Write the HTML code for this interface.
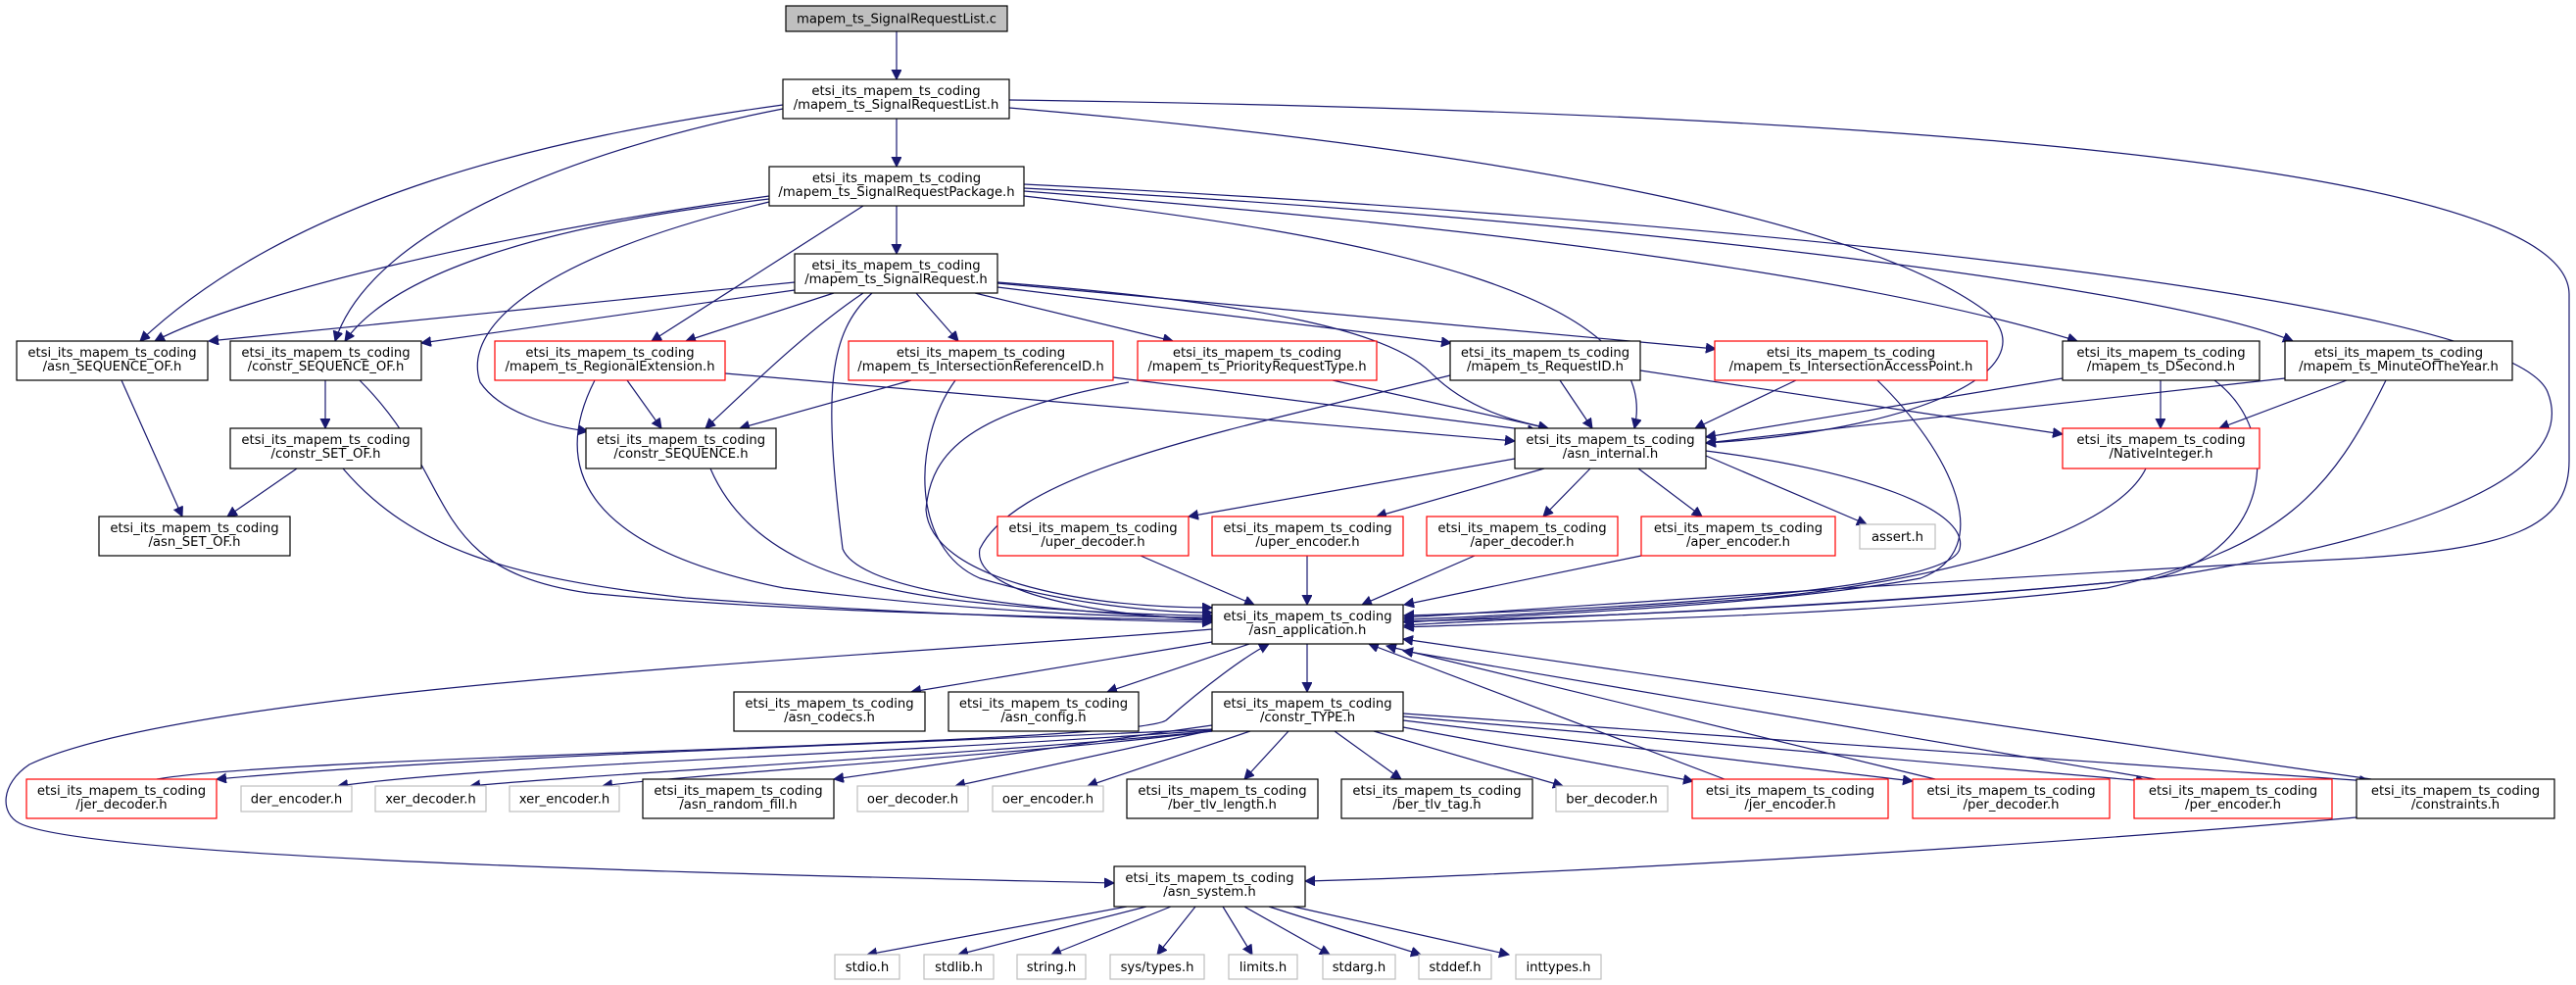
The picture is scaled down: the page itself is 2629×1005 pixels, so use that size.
<!DOCTYPE html>
<html><head><meta charset="utf-8"><style>
html,body{margin:0;padding:0;background:#fff;}
svg{display:block;}
text{font-family:"DejaVu Sans","Liberation Sans",sans-serif;font-size:13.2px;fill:#000;text-anchor:middle;}
.e{fill:none;stroke:#191970;stroke-width:1.2;marker-end:url(#a);}
.b{fill:#fff;stroke:#000;stroke-width:1.2;}
.r{fill:#fff;stroke:#ff0000;stroke-width:1.2;}
.g{fill:#fff;stroke:#bfbfbf;stroke-width:1.2;}
</style></head><body>
<svg width="2629" height="1005" viewBox="0 0 2629 1005" xmlns="http://www.w3.org/2000/svg">
<defs><marker id="a" markerUnits="userSpaceOnUse" markerWidth="12" markerHeight="12" refX="10" refY="5" orient="auto"><path d="M0,0 L10,5 L0,10 z" fill="#191970" stroke="#191970"/></marker></defs>
<g>
<path class="e" d="M915,32 L915,81"/>
<path class="e" d="M915,121 L915,170"/>
<path class="e" d="M915,210 L915,259"/>
<path class="e" d="M799,107 C560,140 300,200 143,348"/>
<path class="e" d="M799,111 C600,150 380,230 342,348"/>
<path class="e" d="M1030,110 C1500,150 1900,220 2030,320 C2090,380 1950,440 1741,452"/>
<path class="e" d="M1030,102 C1600,110 2620,140 2622,300 L2622,470 C2622,540 2560,560 2400,570 C2000,590 1600,620 1433,630"/>
<path class="e" d="M785,200 C500,240 250,300 158,348"/>
<path class="e" d="M785,203 C550,230 400,280 352,348"/>
<path class="e" d="M785,206 C560,260 470,330 490,390 C510,420 560,435 600,440"/>
<path class="e" d="M881,210 L665,348"/>
<path class="e" d="M1045,200 C1400,240 1700,300 1668,437"/>
<path class="e" d="M1045,195 C1500,230 1900,280 2120,348"/>
<path class="e" d="M1045,192 C1600,220 2200,290 2340,348"/>
<path class="e" d="M1045,188 C1700,220 2560,300 2600,400 C2640,500 2400,560 2200,590 C1900,620 1600,630 1433,634"/>
<path class="e" d="M811,288 L213,348"/>
<path class="e" d="M811,296 L430,350"/>
<path class="e" d="M851,299 L700,348"/>
<path class="e" d="M881,299 C820,340 760,400 720,437"/>
<path class="e" d="M890,299 C845,340 840,400 860,560 C880,610 1100,625 1237,632"/>
<path class="e" d="M935,299 L978,348"/>
<path class="e" d="M995,299 L1197,348"/>
<path class="e" d="M1018,293 L1481,350"/>
<path class="e" d="M1018,289 L1751,356"/>
<path class="e" d="M1018,288 C1300,310 1420,340 1460,380 C1500,420 1550,430 1580,437"/>
<path class="e" d="M124,388 L186,527"/>
<path class="e" d="M332,388 L332,437"/>
<path class="e" d="M367,388 C470,490 430,580 600,605 C800,625 1100,630 1237,633"/>
<path class="e" d="M303,478 L232,527"/>
<path class="e" d="M350,478 C420,560 520,590 700,610 C900,625 1100,632 1237,635"/>
<path class="e" d="M640,388 L675,437"/>
<path class="e" d="M740,381 L1546,450"/>
<path class="e" d="M607,388 C560,480 600,560 800,600 C1000,625 1150,630 1237,630"/>
<path class="e" d="M930,388 L755,437"/>
<path class="e" d="M1136,385 L1569,440"/>
<path class="e" d="M975,388 C930,450 930,560 1000,590 C1100,620 1200,625 1237,625"/>
<path class="e" d="M1360,388 L1580,437"/>
<path class="e" d="M1152,390 C990,420 950,460 945,520 C950,590 1100,620 1237,620"/>
<path class="e" d="M1592,388 L1625,437"/>
<path class="e" d="M1674,378 L2105,443"/>
<path class="e" d="M1480,383 C1250,440 1040,480 1000,560 C990,610 1150,630 1237,632"/>
<path class="e" d="M1833,388 L1730,437"/>
<path class="e" d="M1916,388 C1990,460 2040,560 1960,590 C1800,620 1500,630 1433,635"/>
<path class="e" d="M2105,386 L1741,446"/>
<path class="e" d="M2205,388 L2205,437"/>
<path class="e" d="M2260,388 C2330,440 2320,560 2200,590 C1900,620 1550,630 1433,638"/>
<path class="e" d="M2332,386 L1741,452"/>
<path class="e" d="M2395,388 L2265,437"/>
<path class="e" d="M2435,388 C2380,500 2330,560 2150,600 C1900,630 1550,635 1433,640"/>
<path class="e" d="M725,478 C760,560 850,600 1000,615 C1100,625 1200,628 1237,628"/>
<path class="e" d="M2190,478 C2160,540 2000,590 1800,610 C1600,625 1500,630 1433,632"/>
<path class="e" d="M1546,468 L1213,527"/>
<path class="e" d="M1576,478 L1405,527"/>
<path class="e" d="M1623,478 L1575,527"/>
<path class="e" d="M1672,478 L1737,527"/>
<path class="e" d="M1741,465 L1905,535"/>
<path class="e" d="M1741,460 C1900,480 2010,520 2000,560 C1990,600 1700,620 1433,628"/>
<path class="e" d="M1164,567 L1280,617"/>
<path class="e" d="M1334,567 L1334,617"/>
<path class="e" d="M1505,567 L1390,617"/>
<path class="e" d="M1675,567 L1433,617"/>
<path class="e" d="M1237,655 L930,706"/>
<path class="e" d="M1275,657 L1130,706"/>
<path class="e" d="M1334,657 L1334,706"/>
<path class="e" d="M1237,642 C900,670 200,700 30,780 C0,800 0,830 20,840 C100,880 900,895 1137,901"/>
<path class="e" d="M1237,744 C900,760 500,770 221,795"/>
<path class="e" d="M1237,745 C900,770 500,780 345,802"/>
<path class="e" d="M1237,746 C1000,770 600,790 480,802"/>
<path class="e" d="M1237,746 C1050,770 700,790 615,802"/>
<path class="e" d="M1237,740 L851,795"/>
<path class="e" d="M1237,745 L975,802"/>
<path class="e" d="M1276,746 L1110,802"/>
<path class="e" d="M1315,746 L1270,795"/>
<path class="e" d="M1362,746 L1430,795"/>
<path class="e" d="M1402,746 L1595,802"/>
<path class="e" d="M1432,742 L1728,797"/>
<path class="e" d="M1432,735 L1952,797"/>
<path class="e" d="M1432,731 L2190,797"/>
<path class="e" d="M1432,728 L2418,797"/>
<path class="e" d="M160,795 C300,770 1150,760 1190,735 C1230,700 1270,670 1295,657"/>
<path class="e" d="M1760,795 L1397,657"/>
<path class="e" d="M1975,795 L1415,659"/>
<path class="e" d="M2200,795 L1432,664"/>
<path class="e" d="M2420,795 L1432,652"/>
<path class="e" d="M2405,834 C2000,870 1500,895 1332,899"/>
<path class="e" d="M1150,925 L885,974"/>
<path class="e" d="M1170,925 L978,974"/>
<path class="e" d="M1195,925 L1073,974"/>
<path class="e" d="M1220,925 L1181,974"/>
<path class="e" d="M1248,925 L1278,974"/>
<path class="e" d="M1270,925 L1357,974"/>
<path class="e" d="M1295,925 L1450,974"/>
<path class="e" d="M1320,925 L1540,974"/>
</g>
<g>
<rect x="802" y="6" width="226" height="26" fill="#bfbfbf" stroke="#000" stroke-width="1.2"/><text x="915" y="23.5">mapem_ts_SignalRequestList.c</text>
<rect class="b" x="799" y="81" width="231" height="40"/><text x="914.5" y="97">etsi_its_mapem_ts_coding</text><text x="914.5" y="111">/mapem_ts_SignalRequestList.h</text>
<rect class="b" x="785" y="170" width="260" height="40"/><text x="915" y="186">etsi_its_mapem_ts_coding</text><text x="915" y="200">/mapem_ts_SignalRequestPackage.h</text>
<rect class="b" x="811" y="259" width="207" height="40"/><text x="914.5" y="275">etsi_its_mapem_ts_coding</text><text x="914.5" y="289">/mapem_ts_SignalRequest.h</text>
<rect class="b" x="17" y="348" width="195" height="40"/><text x="114.5" y="364">etsi_its_mapem_ts_coding</text><text x="114.5" y="378">/asn_SEQUENCE_OF.h</text>
<rect class="b" x="235" y="348" width="195" height="40"/><text x="332.5" y="364">etsi_its_mapem_ts_coding</text><text x="332.5" y="378">/constr_SEQUENCE_OF.h</text>
<rect class="r" x="505" y="348" width="235" height="40"/><text x="622.5" y="364">etsi_its_mapem_ts_coding</text><text x="622.5" y="378">/mapem_ts_RegionalExtension.h</text>
<rect class="r" x="866" y="348" width="270" height="40"/><text x="1001" y="364">etsi_its_mapem_ts_coding</text><text x="1001" y="378">/mapem_ts_IntersectionReferenceID.h</text>
<rect class="r" x="1161" y="348" width="244" height="40"/><text x="1283" y="364">etsi_its_mapem_ts_coding</text><text x="1283" y="378">/mapem_ts_PriorityRequestType.h</text>
<rect class="b" x="1480" y="348" width="194" height="40"/><text x="1577" y="364">etsi_its_mapem_ts_coding</text><text x="1577" y="378">/mapem_ts_RequestID.h</text>
<rect class="r" x="1750" y="348" width="278" height="40"/><text x="1889" y="364">etsi_its_mapem_ts_coding</text><text x="1889" y="378">/mapem_ts_IntersectionAccessPoint.h</text>
<rect class="b" x="2105" y="348" width="201" height="40"/><text x="2205.5" y="364">etsi_its_mapem_ts_coding</text><text x="2205.5" y="378">/mapem_ts_DSecond.h</text>
<rect class="b" x="2332" y="348" width="232" height="40"/><text x="2448" y="364">etsi_its_mapem_ts_coding</text><text x="2448" y="378">/mapem_ts_MinuteOfTheYear.h</text>
<rect class="b" x="235" y="437" width="195" height="41"/><text x="332.5" y="453">etsi_its_mapem_ts_coding</text><text x="332.5" y="467">/constr_SET_OF.h</text>
<rect class="b" x="598" y="437" width="194" height="41"/><text x="695" y="453">etsi_its_mapem_ts_coding</text><text x="695" y="467">/constr_SEQUENCE.h</text>
<rect class="b" x="1546" y="437" width="195" height="41"/><text x="1643.5" y="453">etsi_its_mapem_ts_coding</text><text x="1643.5" y="467">/asn_internal.h</text>
<rect class="r" x="2105" y="437" width="201" height="41"/><text x="2205.5" y="453">etsi_its_mapem_ts_coding</text><text x="2205.5" y="467">/NativeInteger.h</text>
<rect class="b" x="101" y="527" width="195" height="40"/><text x="198.5" y="543">etsi_its_mapem_ts_coding</text><text x="198.5" y="557">/asn_SET_OF.h</text>
<rect class="r" x="1018" y="527" width="195" height="40"/><text x="1115.5" y="543">etsi_its_mapem_ts_coding</text><text x="1115.5" y="557">/uper_decoder.h</text>
<rect class="r" x="1237" y="527" width="195" height="40"/><text x="1334.5" y="543">etsi_its_mapem_ts_coding</text><text x="1334.5" y="557">/uper_encoder.h</text>
<rect class="r" x="1456" y="527" width="195" height="40"/><text x="1553.5" y="543">etsi_its_mapem_ts_coding</text><text x="1553.5" y="557">/aper_decoder.h</text>
<rect class="r" x="1675" y="527" width="198" height="40"/><text x="1774" y="543">etsi_its_mapem_ts_coding</text><text x="1774" y="557">/aper_encoder.h</text>
<rect class="g" x="1898" y="535" width="77" height="25"/><text x="1936.5" y="552">assert.h</text>
<rect class="b" x="1237" y="617" width="195" height="40"/><text x="1334.5" y="633">etsi_its_mapem_ts_coding</text><text x="1334.5" y="647">/asn_application.h</text>
<rect class="b" x="749" y="706" width="195" height="40"/><text x="846.5" y="722">etsi_its_mapem_ts_coding</text><text x="846.5" y="736">/asn_codecs.h</text>
<rect class="b" x="968" y="706" width="194" height="40"/><text x="1065" y="722">etsi_its_mapem_ts_coding</text><text x="1065" y="736">/asn_config.h</text>
<rect class="b" x="1237" y="706" width="195" height="40"/><text x="1334.5" y="722">etsi_its_mapem_ts_coding</text><text x="1334.5" y="736">/constr_TYPE.h</text>
<rect class="r" x="27" y="795" width="194" height="40"/><text x="124" y="811">etsi_its_mapem_ts_coding</text><text x="124" y="825">/jer_decoder.h</text>
<rect class="g" x="246" y="802" width="113" height="26"/><text x="302.5" y="819.5">der_encoder.h</text>
<rect class="g" x="383" y="802" width="113" height="26"/><text x="439.5" y="819.5">xer_decoder.h</text>
<rect class="g" x="520" y="802" width="112" height="26"/><text x="576" y="819.5">xer_encoder.h</text>
<rect class="b" x="656" y="795" width="195" height="40"/><text x="753.5" y="811">etsi_its_mapem_ts_coding</text><text x="753.5" y="825">/asn_random_fill.h</text>
<rect class="g" x="875" y="802" width="113" height="26"/><text x="931.5" y="819.5">oer_decoder.h</text>
<rect class="g" x="1013" y="802" width="113" height="26"/><text x="1069.5" y="819.5">oer_encoder.h</text>
<rect class="b" x="1150" y="795" width="195" height="40"/><text x="1247.5" y="811">etsi_its_mapem_ts_coding</text><text x="1247.5" y="825">/ber_tlv_length.h</text>
<rect class="b" x="1369" y="795" width="195" height="40"/><text x="1466.5" y="811">etsi_its_mapem_ts_coding</text><text x="1466.5" y="825">/ber_tlv_tag.h</text>
<rect class="g" x="1588" y="802" width="114" height="26"/><text x="1645" y="819.5">ber_decoder.h</text>
<rect class="r" x="1727" y="795" width="200" height="40"/><text x="1827" y="811">etsi_its_mapem_ts_coding</text><text x="1827" y="825">/jer_encoder.h</text>
<rect class="r" x="1952" y="795" width="201" height="40"/><text x="2052.5" y="811">etsi_its_mapem_ts_coding</text><text x="2052.5" y="825">/per_decoder.h</text>
<rect class="r" x="2178" y="795" width="202" height="40"/><text x="2279" y="811">etsi_its_mapem_ts_coding</text><text x="2279" y="825">/per_encoder.h</text>
<rect class="b" x="2405" y="795" width="202" height="40"/><text x="2506" y="811">etsi_its_mapem_ts_coding</text><text x="2506" y="825">/constraints.h</text>
<rect class="b" x="1137" y="884" width="195" height="41"/><text x="1234.5" y="900">etsi_its_mapem_ts_coding</text><text x="1234.5" y="914">/asn_system.h</text>
<rect class="g" x="852" y="974" width="66" height="25"/><text x="885" y="991">stdio.h</text>
<rect class="g" x="943" y="974" width="71" height="25"/><text x="978.5" y="991">stdlib.h</text>
<rect class="g" x="1038" y="974" width="70" height="25"/><text x="1073" y="991">string.h</text>
<rect class="g" x="1133" y="974" width="96" height="25"/><text x="1181" y="991">sys/types.h</text>
<rect class="g" x="1254" y="974" width="70" height="25"/><text x="1289" y="991">limits.h</text>
<rect class="g" x="1350" y="974" width="74" height="25"/><text x="1387" y="991">stdarg.h</text>
<rect class="g" x="1448" y="974" width="74" height="25"/><text x="1485" y="991">stddef.h</text>
<rect class="g" x="1547" y="974" width="87" height="25"/><text x="1590.5" y="991">inttypes.h</text>
</g>
</svg>
</body></html>
